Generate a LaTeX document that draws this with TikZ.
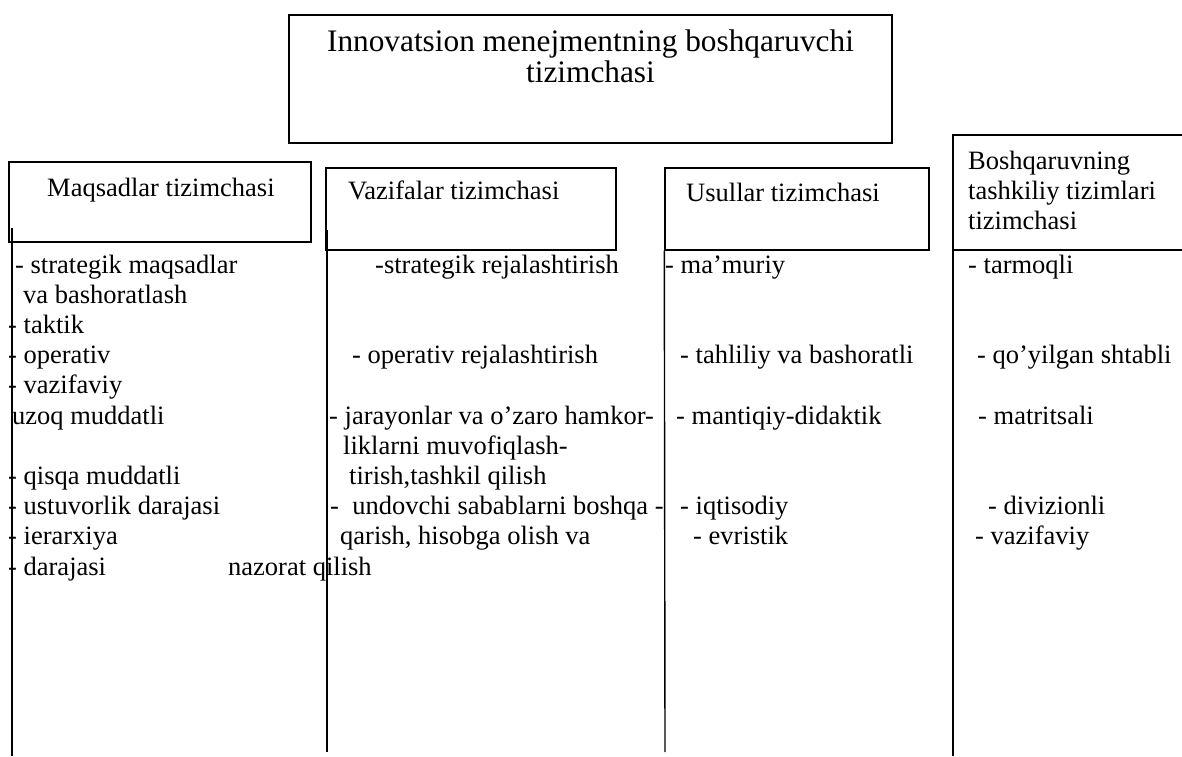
\documentclass[tikz,border=0pt]{standalone}
\usepackage{fontspec}
\setmainfont{Liberation Serif}
\usetikzlibrary{positioning}
\usetikzlibrary{calc}
\tikzset{
  sysbox/.style = {rectangle, draw=black, line width=1.4pt, inner sep=0pt},
  ttl/.style = {anchor=base, inner sep=0pt, font=\fontsize{31.3}{31}\selectfont},
  itm/.style = {anchor=base west, inner sep=0pt,
    font=\fontsize{26.5}{30.2}\selectfont},
  colline/.style = {line width=1.4pt}
}

\begin{document}
\begin{tikzpicture}[x=1pt,y=-1pt]
\useasboundingbox (0,0) rectangle (1182,756);

% boxes
\node [sysbox, minimum width=603pt, minimum height=128pt] (top) at (590.5,79) {};
\node [sysbox, minimum width=302pt, minimum height=80pt] (maq) at (160,202) {};
\node [sysbox, minimum width=290pt, minimum height=82pt] (vaz) at (471,209) {};
\node [sysbox, minimum width=264pt, minimum height=82pt] (usu) at (797,209) {};
\coordinate (bosNE) at (1182,135);
\coordinate (bosNW) at (953,135);
\coordinate (bosSW) at (953,250);
\coordinate (bosSE) at (1182,250);
\draw[colline] (bosNE) -- (bosNW) -- (bosSW) -- (bosSE);

\node [ttl] (ttlA) at (590.5,51) {Innovatsion menejmentning boshqaruvchi};
\node [ttl] (ttlB) at (590.5,82) {tizimchasi};

\node [itm] (maqT) at (47,196) {Maqsadlar tizimchasi};
\node [itm] (vazT) at (348,199) {Vazifalar tizimchasi};
\node [itm] (usuT) at (686,201) {Usullar tizimchasi};
\node [itm] (bosT1) at (968,169) {Boshqaruvning};
\node [itm] (bosT2) at (968,199) {tashkiliy tizimlari};
\node [itm] (bosT3) at (968,229) {tizimchasi};

% column lines
\coordinate (c1top) at (12,228);
\coordinate (c1end) at (12,756);
\coordinate (c2top) at (327,230);
\coordinate (c2end) at (327,752);
\coordinate (c3end) at (665,752);
\coordinate (c4end) at (953,756);
\draw[colline] (c1top) -- (c1end);
\draw[colline] (c2top) -- (c2end);
\draw[colline] (usu.south west) -- (c3end);
\draw[colline] (bosSW) -- (c4end);

\node [itm] (m1) at (15,273) {- strategik maqsadlar};
\node [itm] (m2) at (23,303.2) {va bashoratlash};
\node [itm] (m3) at (8,333.4) {- taktik};
\node [itm] (m4) at (8,363.6) {- operativ};
\node [itm] (m5) at (8,393.8) {- vazifaviy};
\node [itm] (m6) at (12,424) {uzoq muddatli};
\node [itm] (m7) at (8,484.4) {- qisqa muddatli};
\node [itm] (m8) at (8,514.6) {- ustuvorlik darajasi};
\node [itm] (m9) at (8,544.8) {- ierarxiya};
\node [itm] (m10) at (8,575) {- darajasi};

\node [itm] (v1) at (375,273) {-strategik rejalashtirish};
\node [itm] (v2) at (352,363.6) {- operativ rejalashtirish};
\node [itm] (v3) at (329,424) {- jarayonlar va o’zaro hamkor-};
\node [itm] (v4) at (343,454.2) {liklarni muvofiqlash-};
\node [itm] (v5) at (349,484.4) {tirish,tashkil qilish};
\node [itm] (v6) at (330,514.6) {-\ \ undovchi sabablarni boshqa -};
\node [itm] (v7) at (340,544.8) {qarish, hisobga olish va};
\node [itm] (v8) at (228,575) {nazorat qilish};

\node [itm] (u1) at (665,273) {- ma’muriy};
\node [itm] (u2) at (680,363.6) {- tahliliy va bashoratli};
\node [itm] (u3) at (676,424) {- mantiqiy-didaktik};
\node [itm] (u4) at (680,514.6) {- iqtisodiy};
\node [itm] (u5) at (693,544.8) {- evristik};

\node [itm] (b1) at (968,273) {- tarmoqli};
\node [itm] (b2) at (977,363.6) {- qo’yilgan shtabli};
\node [itm] (b3) at (978,424) {- matritsali};
\node [itm] (b4) at (988,514.6) {- divizionli};
\node [itm] (b5) at (975,544.8) {- vazifaviy};
\end{tikzpicture}
\end{document}
